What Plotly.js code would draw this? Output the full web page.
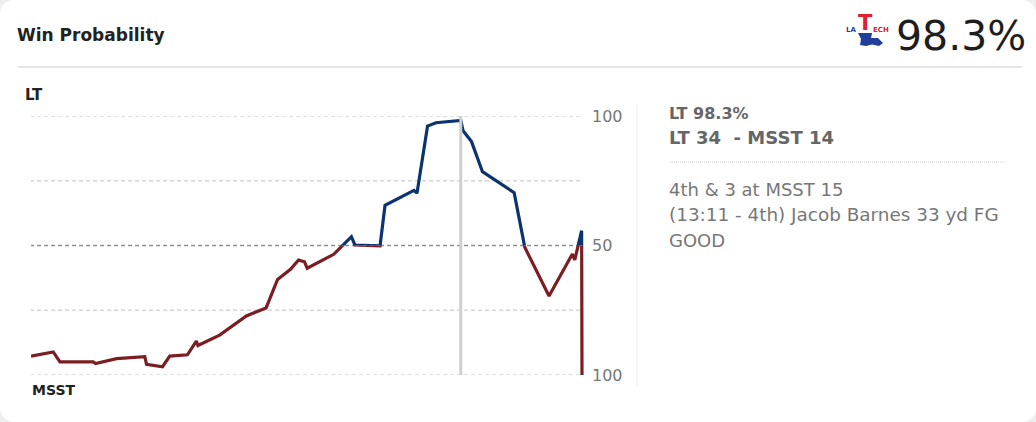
<!DOCTYPE html>
<html>
<head>
<meta charset="utf-8">
<script src="https://cdn.plot.ly/plotly-3.0.1.min.js"></script>
<style>
  html, body { margin: 0; padding: 0; background: #eeeeee; }
  #card { width: 1036px; height: 422px; background: #ffffff; border-radius: 14px; overflow: hidden; }
</style>
</head>
<body>
<div id="card"><div id="chart"></div></div>
<script>
// ---- data (game minutes elapsed, LT win probability %) ----
const minutes = [0, 2.42, 3.15, 6.77, 7.03, 9.32, 12.39, 12.58, 14.32, 15.11, 17.03, 18.01, 18.18,
  20.54, 23.45, 25.6, 26.85, 28.26, 29.13, 29.78, 30.08, 32.97, 34.89, 35.27, 35.98, 38.01,
  38.55, 41.7, 42.03, 43.18, 44.1, 46.8, 47.05, 47.97, 49.16, 52.61, 53.77, 56.41, 58.95,
  59.21, 59.96, 60];
const ltWinPct = [7.3, 8.9, 5.1, 5.1, 4.4, 6.3, 7.1, 4.1, 3.2, 7.3, 7.8, 13.1, 11.4,
  15.4, 22.8, 25.9, 36.9, 40.8, 44.4, 43.7, 41.2, 46.6, 53.4, 50.2, 50.1, 49.9,
  65.5, 71.3, 70.2, 96.1, 97.4, 98.3, 94.3, 90.1, 78.5, 70.4, 49.3, 30.5, 46.7,
  44.4, 55.7, 0];
const tickVals = [0, 25, 50, 75, 100];
const tickLabels = ['100', '', '50', '', '100'];
const gameMinutes = [0, 60];
const hoverMinute = 46.8;
const homeTeam = 'LT';
const awayTeam = 'MSST';
const headline = '98.3%';
const infoLines = ['LT 98.3%', 'LT 34  - MSST 14'];
const playLines = ['4th & 3 at MSST 15', '(13:11 - 4th) Jacob Barnes 33 yd FG', 'GOOD'];

// ---- layout helpers (pixel -> paper) ----
const L = 31, R = 585, T = 116, B = 375;
const GAME_END_PX = 582;
const px = x => (x - L) / (R - L);
const py = y => (B - y) / (B - T);
const xMax = gameMinutes[1] * (R - L) / (GAME_END_PX - L);

const BLUE = '#0a3370';
const RED = '#7a1e23';
const FONT = 'DejaVu Sans, Verdana, sans-serif';

const traces = [
  { x: minutes, y: ltWinPct, xaxis: 'x', yaxis: 'y2', mode: 'lines',
    line: { color: BLUE, width: 3.2 }, hoverinfo: 'skip', showlegend: false },
  { x: minutes, y: ltWinPct, xaxis: 'x', yaxis: 'y3', mode: 'lines',
    line: { color: RED, width: 3.2 }, hoverinfo: 'skip', showlegend: false }
];

function txt(text, x, y, size, color, bold, extra) {
  return Object.assign({
    text: bold ? '<b>' + text + '</b>' : text, xref: 'paper', yref: 'paper',
    x: px(x), y: py(y), xanchor: 'left', yanchor: 'middle', showarrow: false,
    borderpad: 0, font: { family: FONT, size: size, color: color }
  }, extra || {});
}

const annotations = [
  txt('Win Probability', 16, 35, 17, '#222222', true),
  txt(headline, 895, 36, 41, '#1e1e1e', false),
  txt(homeTeam, 24, 95, 15, '#222222', true),
  txt(awayTeam, 31, 390, 14, '#222222', true),
  txt(infoLines[0], 668, 113, 16, '#666666', true),
  txt(infoLines[1], 668, 137, 18, '#666666', true),
  txt(playLines[0], 668, 189, 18, '#777777', false),
  txt(playLines[1], 668, 214, 18.4, '#777777', false),
  txt(playLines[2], 668, 240, 18, '#777777', false),
  // logo lettering
  txt('LA', 845, 30, 7, '#1f3f9a', true),
  txt('T', 857, 23, 21, '#e0202e', true),
  txt('ECH', 872, 30, 7, '#e0202e', true)
];

const shapes = [];
// dotted horizontal gridlines at each tick value, spanning the game
tickVals.forEach(v => {
  shapes.push({ type: 'line', xref: 'x', yref: 'y', x0: gameMinutes[0] - 0.1, x1: gameMinutes[1], y0: v, y1: v,
    line: v === 50 ? { color: '#8e8e8e', width: 1.4, dash: '4px,3px' }
                   : { color: '#d6d6d6', width: 1.3, dash: '4px,3px' },
    layer: 'below' });
});
shapes.push(
  { type: 'line', xref: 'x', yref: 'paper', x0: hoverMinute, x1: hoverMinute, y0: 0, y1: 1,
    line: { color: '#cfcfcf', width: 3 }, layer: 'above' },
  { type: 'line', xref: 'paper', yref: 'paper', x0: px(18), x1: px(1022), y0: py(67), y1: py(67),
    line: { color: '#dddddd', width: 1.5 } },
  { type: 'line', xref: 'paper', yref: 'paper', x0: px(637), x1: px(637), y0: py(105), y1: py(386),
    line: { color: '#ececec', width: 1 } },
  { type: 'line', xref: 'paper', yref: 'paper', x0: px(670), x1: px(1006), y0: py(162), y1: py(162),
    line: { color: '#cccccc', width: 1, dash: '1px,1px' } },
  // Louisiana silhouette of logo
  { type: 'path', xref: 'paper', yref: 'paper', fillcolor: '#1f3f9a', line: { width: 0 },
    path: 'M' + px(858) + ',' + py(33) + ' L' + px(872) + ',' + py(33) + ' L' + px(871) + ',' + py(38) +
      ' L' + px(878) + ',' + py(38) + ' L' + px(883) + ',' + py(43) + ' L' + px(879) + ',' + py(46) +
      ' L' + px(872) + ',' + py(44.5) + ' L' + px(866) + ',' + py(46) + ' L' + px(860) + ',' + py(45) +
      ' L' + px(861) + ',' + py(39) + ' Z' }
);

const layout = {
  width: 1036, height: 422,
  margin: { l: L, r: 1036 - R, t: T, b: 422 - B, pad: 0 },
  paper_bgcolor: 'rgba(0,0,0,0)', plot_bgcolor: 'rgba(0,0,0,0)',
  showlegend: false,
  xaxis: { range: [0, xMax], visible: false, fixedrange: true },
  yaxis: { domain: [0, 1], range: [0, 100], side: 'right', anchor: 'x',
    tickmode: 'array', tickvals: tickVals, ticktext: tickLabels, ticks: '',
    ticklabelstandoff: 6, showline: false, zeroline: false, showgrid: false,
    tickfont: { family: FONT, size: 16, color: '#777777' } },
  yaxis2: { domain: [0.5, 1], range: [50, 100], visible: false, anchor: 'x' },
  yaxis3: { domain: [0, 0.5], range: [0, 50], visible: false, anchor: 'x' },
  annotations: annotations,
  shapes: shapes
};

Plotly.newPlot('chart', traces, layout, { staticPlot: true, displayModeBar: false });
</script>
</body>
</html>
